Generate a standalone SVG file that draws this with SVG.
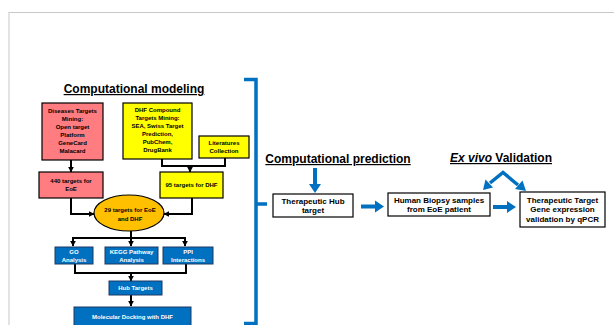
<svg xmlns="http://www.w3.org/2000/svg" width="614" height="325" viewBox="0 0 614 325">
<defs>
<style>
.t{font-family:"Liberation Sans",Arial,sans-serif;font-weight:bold;text-anchor:middle}
.s{font-size:6px;fill:#000}
.w{font-size:6px;fill:#fff}
.r{font-size:8px;fill:#000}
.h{font-size:12px;fill:#000;text-decoration:underline}
.bx{stroke:#000;stroke-width:1.2}
.bl{fill:#0070C0;stroke:#1F3864;stroke-width:1}
.c{fill:none;stroke:#000;stroke-width:2}
.ca{fill:none;stroke:#000;stroke-width:2;marker-end:url(#ah)}
.ba{fill:#0070C0}
</style>
<marker id="ah" viewBox="0 0 10 10" refX="9" refY="5" markerWidth="3" markerHeight="3" orient="auto" markerUnits="strokeWidth">
<path d="M0,0 L10,5 L0,10 z" fill="#000"/>
</marker>
</defs>
<rect x="0" y="0" width="614" height="325" fill="#fff"/>
<rect x="9" y="12.5" width="620" height="330" fill="none" stroke="#c8c8c8" stroke-width="1"/>

<text class="t h" x="134" y="93">Computational modeling</text>
<text class="t h" x="338" y="163">Computational prediction</text>
<text class="t" x="501" y="162" style="font-size:12px;text-decoration:underline"><tspan font-style="italic">Ex vivo</tspan> Validation</text>

<g id="connectors">
<path class="ca" d="M71,160 V172"/>
<path class="c" d="M162,159 V166 H225 V158"/>
<path class="ca" d="M190,166 V172"/>
<path class="ca" d="M71,198 V214 H94"/>
<path class="ca" d="M192,198 V214 H164"/>
<path class="c" d="M131,231 V238 M73,238 H185"/>
<path class="ca" d="M73,237 V246"/>
<path class="ca" d="M131,237 V246"/>
<path class="ca" d="M185,237 V246"/>
<path class="c" d="M75,264 V273 H186 V264"/>
<path class="ca" d="M131,273 V281"/>
<path class="ca" d="M131,295 V306"/>
<path d="M244,79.5 H256 V323.5 H244 M256,204 H267" fill="none" stroke="#0070C0" stroke-width="3.5"/>
<polygon class="ba" points="313,168 317,168 317,184 321,184 315,193 309,184 313,184"/>
<polygon class="ba" points="361,204.5 375,204.5 375,200.5 384,206.5 375,212.5 375,208.5 361,208.5"/>
<polygon class="ba" points="493,205 507,205 507,201 516,207 507,213 507,209 493,209"/>
<path d="M490,183 L503,172.5 L518,185" fill="none" stroke="#0070C0" stroke-width="3.5" stroke-linejoin="miter"/>
<polygon class="ba" points="483,190 485.5,179.5 493,187.5"/>
<polygon class="ba" points="526,191 515,189 522.5,180.5"/>
</g>

<g id="n-diseases">
<rect class="bx" x="42" y="103" width="61" height="57" fill="#FF7C80"/>
<text class="t s" x="72.5" y="113">Diseases Targets</text>
<text class="t s" x="72.5" y="121">Mining:</text>
<text class="t s" x="72.5" y="129">Open target</text>
<text class="t s" x="72.5" y="137">Platform</text>
<text class="t s" x="72.5" y="145">GeneCard</text>
<text class="t s" x="72.5" y="153">Malacard</text>
</g>
<g id="n-dhf">
<rect class="bx" x="123" y="103" width="69" height="56" fill="#FFFF00"/>
<text class="t s" x="157.5" y="112">DHF Compound</text>
<text class="t s" x="157.5" y="120">Targets Mining:</text>
<text class="t s" x="157.5" y="128">SEA, Swiss Target</text>
<text class="t s" x="157.5" y="136">Prediction,</text>
<text class="t s" x="157.5" y="144">PubChem,</text>
<text class="t s" x="157.5" y="152">DrugBank</text>
</g>
<g id="n-lit">
<rect class="bx" x="199" y="136" width="50" height="22" fill="#FFFF00"/>
<text class="t s" x="224" y="145">Literatures</text>
<text class="t s" x="224" y="153">Collection</text>
</g>
<g id="n-440">
<rect class="bx" x="39" y="172" width="64" height="26" fill="#FF7C80"/>
<text class="t s" x="71" y="183">440 targets for</text>
<text class="t s" x="71" y="191">EoE</text>
</g>
<g id="n-95">
<rect class="bx" x="160" y="172" width="63" height="26" fill="#FFFF00"/>
<text class="t s" x="191.5" y="187">95 targets for DHF</text>
</g>
<g id="n-29">
<ellipse cx="129" cy="213" rx="35" ry="18" fill="#FFC000" stroke="#000" stroke-width="1.2"/>
<text class="t s" x="130" y="212">29 targets for EoE</text>
<text class="t s" x="130" y="221">and DHF</text>
</g>
<g id="n-go">
<rect class="bl" x="55" y="247" width="38" height="17"/>
<text class="t w" x="74" y="254">GO</text>
<text class="t w" x="74" y="261.5">Analysis</text>
</g>
<g id="n-kegg">
<rect class="bl" x="105" y="247" width="53" height="17"/>
<text class="t w" x="131.5" y="254">KEGG Pathway</text>
<text class="t w" x="131.5" y="261.5">Analysis</text>
</g>
<g id="n-ppi">
<rect class="bl" x="163" y="247" width="50" height="17"/>
<text class="t w" x="188" y="254">PPI</text>
<text class="t w" x="188" y="261.5">Interactions</text>
</g>
<g id="n-hub">
<rect class="bl" x="109" y="281" width="53" height="14"/>
<text class="t w" x="135.5" y="290">Hub Targets</text>
</g>
<g id="n-dock">
<rect class="bl" x="74" y="307" width="117" height="25"/>
<text class="t w" x="132.5" y="319">Molecular Docking with DHF</text>
</g>
<g id="n-thera">
<rect class="bx" x="273" y="194" width="80" height="23" fill="#fff"/>
<text class="t r" x="313" y="204">Therapeutic Hub</text>
<text class="t r" x="313" y="213">target</text>
</g>
<g id="n-biopsy">
<rect class="bx" x="388" y="193" width="102" height="23" fill="#fff"/>
<text class="t r" x="439" y="203">Human Biopsy samples</text>
<text class="t r" x="439" y="212">from EoE patient</text>
</g>
<g id="n-qpcr">
<rect class="bx" x="520" y="192" width="85" height="35" fill="#fff"/>
<text class="t r" x="562.5" y="203">Therapeutic Target</text>
<text class="t r" x="562.5" y="212">Gene expression</text>
<text class="t r" x="562.5" y="222">validation by qPCR</text>
</g>
</svg>
